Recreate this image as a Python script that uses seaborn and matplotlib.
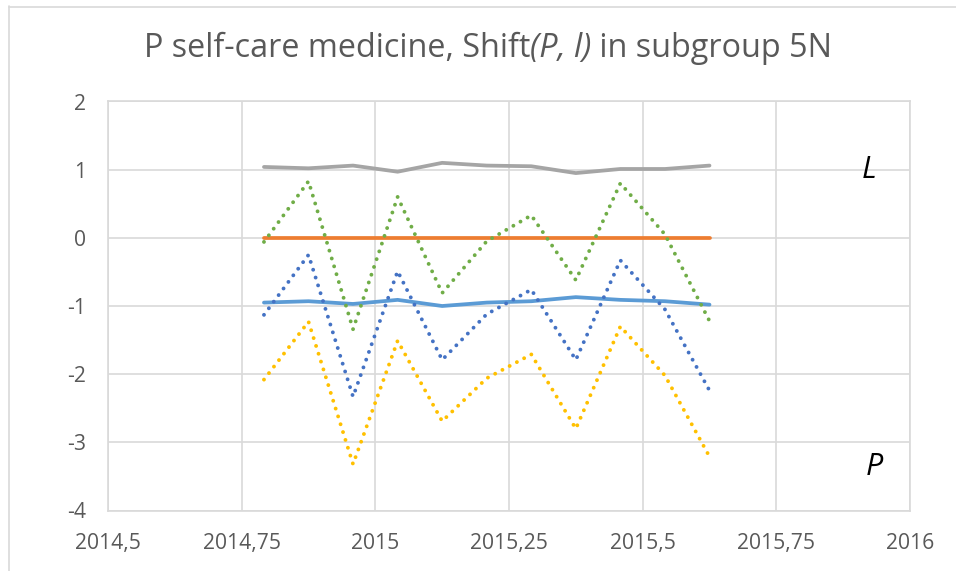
import matplotlib
matplotlib.use("Agg")
import matplotlib.pyplot as plt
from matplotlib.lines import Line2D
import seaborn as sns

# ---- data ----
x_dates = [2014.7917, 2014.875, 2014.9583, 2015.0417, 2015.125, 2015.2083,
           2015.2917, 2015.375, 2015.4583, 2015.5417, 2015.625]
p_solid = [-0.95, -0.93, -0.97, -0.91, -1.00, -0.95, -0.93, -0.87, -0.91, -0.93, -0.98]
zero_line = [0, 0, 0, 0, 0, 0, 0, 0, 0, 0, 0]
l_solid = [1.04, 1.02, 1.06, 0.97, 1.10, 1.06, 1.05, 0.95, 1.01, 1.01, 1.06]
gold_dotted = [-2.08, -1.23, -3.32, -1.51, -2.69, -2.06, -1.71, -2.80, -1.30, -2.02, -3.21]
blue_dotted = [-1.13, -0.25, -2.33, -0.49, -1.79, -1.12, -0.76, -1.79, -0.33, -1.05, -2.24]
green_dotted = [-0.06, 0.83, -1.34, 0.60, -0.81, -0.05, 0.33, -0.62, 0.80, 0.05, -1.22]

x_ticks = [2014.5, 2014.75, 2015.0, 2015.25, 2015.5, 2015.75, 2016.0]
x_tick_labels = ["2014,5", "2014,75", "2015", "2015,25", "2015,5", "2015,75", "2016"]
y_ticks = [-4, -3, -2, -1, 0, 1, 2]
y_tick_labels = ["-4", "-3", "-2", "-1", "0", "1", "2"]

title_parts = [("P self-care medicine, Shift", "normal"),
               ("(P, l)", "italic"),
               (" in subgroup 5N", "normal")]

# ---- style ----
sns.set_theme(style="white")
plt.rcParams["font.family"] = ["Open Sans", "DejaVu Sans"]

W, H = 956, 571
fig = plt.figure(figsize=(W / 100, H / 100), dpi=100)
fig.patch.set_facecolor("white")
L, R, T, B = 108, 910, 101.5, 510.5
ax = fig.add_axes([L / W, 1 - B / H, (R - L) / W, (B - T) / H])
ax.set_facecolor("white")

grid_c = "#d9d9d9"
solid_lw = 2.7
dot_lw = 2.8
dot_style = (0, (0.01, 2.1))

series = [
    (p_solid, "#5b9bd5", "solid"),
    (zero_line, "#ed7d31", "solid"),
    (l_solid, "#a5a5a5", "solid"),
    (gold_dotted, "#ffc000", "dotted"),
    (blue_dotted, "#4472c4", "dotted"),
    (green_dotted, "#70ad47", "dotted"),
]
for i, (vals, col, kind) in enumerate(series):
    if kind == "solid":
        sns.lineplot(x=x_dates, y=vals, ax=ax, color=col, linewidth=solid_lw,
                     solid_capstyle="round", solid_joinstyle="round", zorder=3 + i)
    else:
        sns.lineplot(x=x_dates, y=vals, ax=ax, color=col, linewidth=dot_lw,
                     linestyle=dot_style, dash_capstyle="round", zorder=3 + i)

ax.set_xlim(2014.5, 2016.0)
ax.set_ylim(-4, 2)
ax.set_xticks(x_ticks)
ax.set_xticklabels(x_tick_labels)
ax.set_yticks(y_ticks)
ax.set_yticklabels(y_tick_labels)
ax.set_xlabel("")
ax.set_ylabel("")
ax.grid(True, color=grid_c, linewidth=1.2)
ax.set_axisbelow(True)
for s in ax.spines.values():
    s.set_visible(True)
    s.set_color(grid_c)
    s.set_linewidth(1.2)
ax.tick_params(axis="both", length=0, labelsize=15.2, colors="#595959")
ax.tick_params(axis="x", pad=16)
ax.tick_params(axis="y", pad=15.5)

# title, composed of upright and italic pieces
renderer = fig.canvas.get_renderer()
title_size = 23.3
pieces = []
for txt, st in title_parts:
    t = fig.text(0, 1 - 57 / H, txt, ha="left", va="baseline", fontsize=title_size,
                 style=st, color="#595959")
    pieces.append(t)
widths = [p.get_window_extent(renderer).width for p in pieces]
total = sum(widths)
xpos = 488 - total / 2
for p, w in zip(pieces, widths):
    p.set_x(xpos / W)
    xpos += w

# L and P labels
ax.text(869 / W, 1 - 178 / H, "L", transform=fig.transFigure, ha="center",
        va="baseline", fontsize=22, style="italic", color="black")
ax.text(874 / W, 1 - 475 / H, "P", transform=fig.transFigure, ha="center",
        va="baseline", fontsize=22, style="italic", color="black")

# outer chart border
fig.add_artist(Line2D([8.5 / W, 8.5 / W], [0, 1 - 6 / H], transform=fig.transFigure,
                      color=grid_c, linewidth=1.2))
fig.add_artist(Line2D([8.5 / W, 1], [1 - 6.5 / H, 1 - 6.5 / H], transform=fig.transFigure,
                      color=grid_c, linewidth=1.2))

fig.savefig("out.png", dpi=100)
